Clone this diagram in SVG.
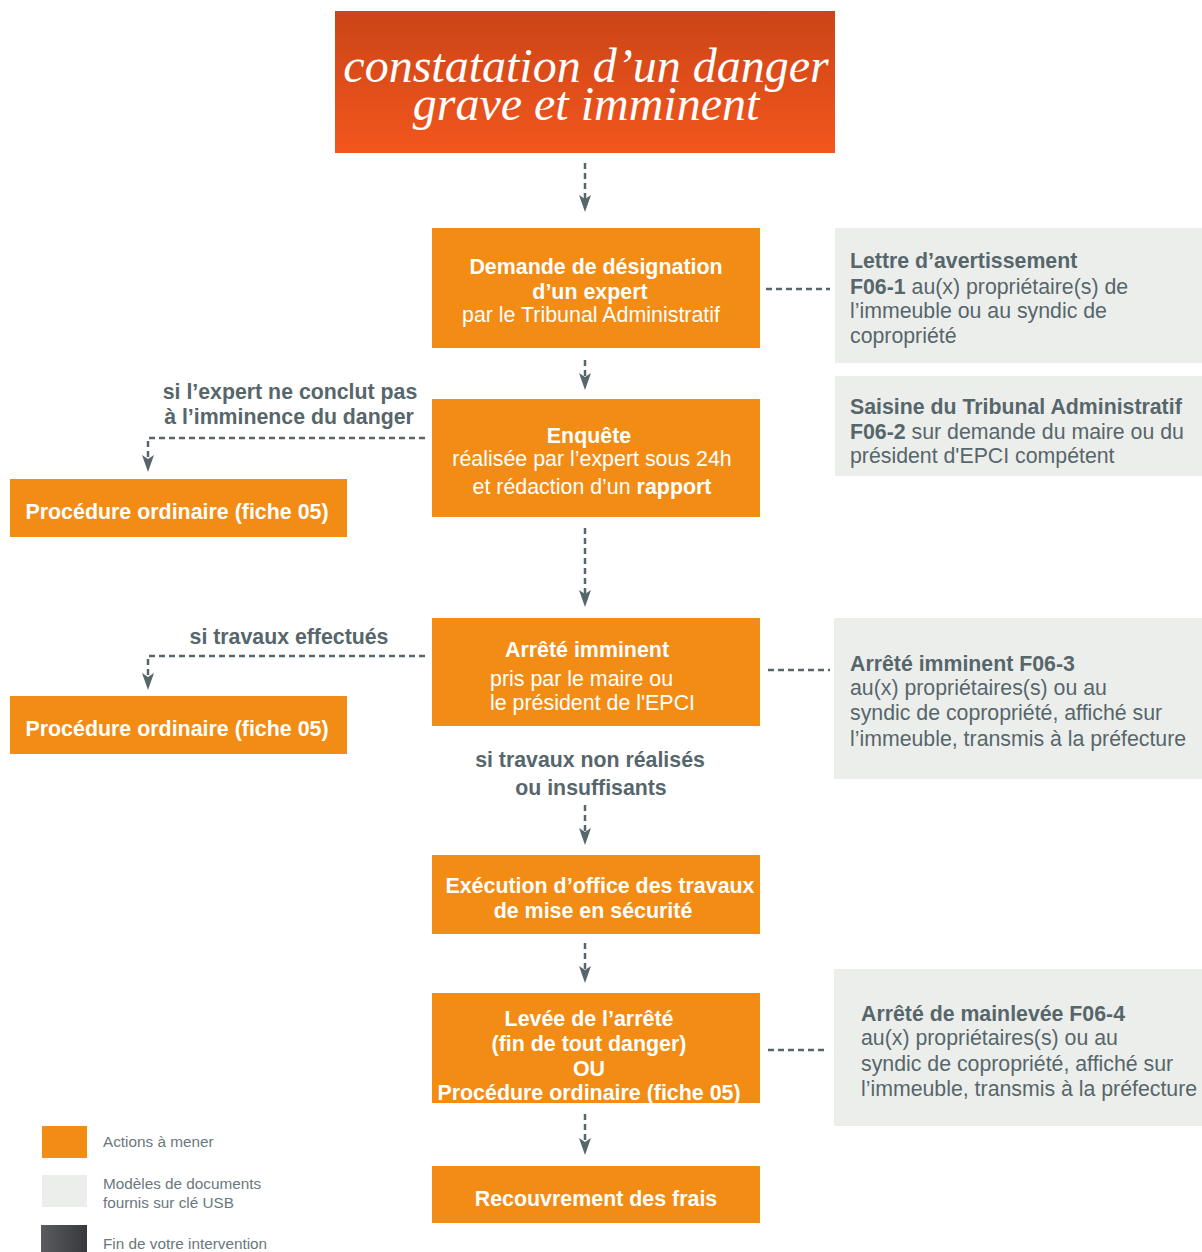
<svg xmlns="http://www.w3.org/2000/svg" width="1202" height="1252" viewBox="0 0 1202 1252">
<defs>
<linearGradient id="gTitle" x1="0" y1="0" x2="0" y2="1">
<stop offset="0" stop-color="#CB4517"/>
<stop offset="1" stop-color="#F3561D"/>
</linearGradient>
<linearGradient id="gDark" x1="0" y1="0" x2="1" y2="0">
<stop offset="0" stop-color="#5A5C5F"/>
<stop offset="1" stop-color="#36383B"/>
</linearGradient>
<marker id="ah" markerUnits="userSpaceOnUse" viewBox="0 0 17 12" refX="4" refY="6" markerWidth="17" markerHeight="12" orient="auto">
<path d="M0,0 L17,6 L0,12 L4,6 z" fill="#56666B"/>
</marker>
<style>
.act{fill:#F38C15}
.doc{fill:#ECEEEB}
.wb{font-family:"Liberation Sans",Arial,sans-serif;font-weight:bold;font-size:21.4px;fill:#FFFFFF}
.wr{font-family:"Liberation Sans",Arial,sans-serif;font-size:21.4px;fill:#FFFFFF}
.gb{font-family:"Liberation Sans",Arial,sans-serif;font-weight:bold;font-size:21.3px;fill:#56666B}
.gr{font-family:"Liberation Sans",Arial,sans-serif;font-size:21.3px;fill:#56666B}
.lg{font-family:"Liberation Sans",Arial,sans-serif;font-size:15.3px;fill:#6A787C}
.c{fill:none;stroke:#56666B;stroke-width:2.5;stroke-dasharray:6 4}
.ttl{font-family:"Liberation Serif","Times New Roman",serif;font-style:italic;font-size:48px;fill:#FFFFFF}
</style>
</defs>
<rect width="1202" height="1252" fill="#FFFFFF"/>

<g id="connectors">
<path class="c" d="M585,163 V199" marker-end="url(#ah)"/>
<path class="c" d="M585,360 V377" marker-end="url(#ah)"/>
<path class="c" d="M585,528 V594" marker-end="url(#ah)"/>
<path class="c" d="M585,805 V832" marker-end="url(#ah)"/>
<path class="c" d="M585,943 V970" marker-end="url(#ah)"/>
<path class="c" d="M585,1114 V1142" marker-end="url(#ah)"/>
<path class="c" d="M425,438 H148 V459" marker-end="url(#ah)"/>
<path class="c" d="M425,656 H148 V677" marker-end="url(#ah)"/>
<path class="c" d="M766,289 H830"/>
<circle cx="750" cy="289" r="1.3" fill="#56666B"/>
<path class="c" d="M768,670 H830"/>
<circle cx="750" cy="670" r="1.3" fill="#56666B"/>
<path class="c" d="M768,1050 H824"/>
</g>

<g id="title">
<rect x="335" y="11" width="500" height="142" fill="url(#gTitle)"/>
<text class="ttl" text-anchor="middle"><tspan x="586" y="82">constatation d’un danger</tspan><tspan x="586" y="120">grave et imminent</tspan></text>
</g>

<g id="demande">
<rect class="act" x="432" y="228" width="328" height="120"/>
<text class="wb" x="596" y="274" text-anchor="middle">Demande de désignation</text>
<text class="wb" x="590" y="299" text-anchor="middle">d’un expert</text>
<text class="wr" x="591" y="322" text-anchor="middle">par le Tribunal Administratif</text>
</g>

<g id="doc1">
<rect class="doc" x="835" y="228" width="367" height="135"/>
<text class="gb" x="850" y="268">Lettre d’avertissement</text>
<text class="gr" x="850" y="294"><tspan font-weight="bold">F06-1</tspan> au(x) propriétaire(s) de</text>
<text class="gr" x="850" y="318">l’immeuble ou au syndic de</text>
<text class="gr" x="850" y="343">copropriété</text>
</g>

<g id="doc2">
<rect class="doc" x="835" y="376" width="367" height="100"/>
<text class="gb" x="850" y="414">Saisine du Tribunal Administratif</text>
<text class="gr" x="850" y="439"><tspan font-weight="bold">F06-2</tspan> sur demande du maire ou du</text>
<text class="gr" x="850" y="463">président d'EPCI compétent</text>
</g>

<g id="enquete">
<rect class="act" x="432" y="399" width="328" height="118"/>
<text class="wb" x="589" y="443" text-anchor="middle">Enquête</text>
<text class="wr" x="592" y="466" text-anchor="middle">réalisée par l’expert  sous 24h</text>
<text class="wr" x="592" y="494" text-anchor="middle">et rédaction d’un <tspan font-weight="bold">rapport</tspan></text>
</g>

<g id="label1">
<text class="gb" x="290" y="399" text-anchor="middle">si l’expert ne conclut pas</text>
<text class="gb" x="289" y="424" text-anchor="middle">à l’imminence du danger</text>
</g>

<g id="proc1">
<rect class="act" x="10" y="479" width="337" height="58"/>
<text class="wb" x="177" y="519" text-anchor="middle">Procédure ordinaire (fiche 05)</text>
</g>

<g id="arrete">
<rect class="act" x="432" y="618" width="328" height="108"/>
<text class="wb" x="587" y="657" text-anchor="middle">Arrêté imminent</text>
<text class="wr" x="490" y="686">pris par le maire ou</text>
<text class="wr" x="490" y="710">le président de l'EPCI</text>
</g>

<g id="label2">
<text class="gb" x="289" y="644" text-anchor="middle">si travaux effectués</text>
</g>

<g id="proc2">
<rect class="act" x="10" y="696" width="337" height="58"/>
<text class="wb" x="177" y="736" text-anchor="middle">Procédure ordinaire (fiche 05)</text>
</g>

<g id="doc3">
<rect class="doc" x="834" y="618" width="368" height="161"/>
<text class="gb" x="850" y="671">Arrêté imminent F06-3</text>
<text class="gr" x="850" y="695">au(x) propriétaires(s) ou au</text>
<text class="gr" x="850" y="720">syndic de copropriété, affiché sur</text>
<text class="gr" x="850" y="746">l’immeuble, transmis à la préfecture</text>
</g>

<g id="label3">
<text class="gb" x="590" y="767" text-anchor="middle">si travaux non réalisés</text>
<text class="gb" x="591" y="795" text-anchor="middle">ou insuffisants</text>
</g>

<g id="execution">
<rect class="act" x="432" y="855" width="328" height="79"/>
<text class="wb" x="600" y="893" text-anchor="middle">Exécution d’office des travaux</text>
<text class="wb" x="593" y="918" text-anchor="middle">de mise en sécurité</text>
</g>

<g id="levee">
<rect class="act" x="432" y="993" width="328" height="110"/>
<text class="wb" x="589" y="1026" text-anchor="middle">Levée de l’arrêté</text>
<text class="wb" x="589" y="1051" text-anchor="middle">(fin de tout danger)</text>
<text class="wb" x="589" y="1076" text-anchor="middle">OU</text>
<text class="wb" x="589" y="1100" text-anchor="middle">Procédure ordinaire (fiche 05)</text>
</g>

<g id="doc4">
<rect class="doc" x="834" y="969" width="368" height="157"/>
<text class="gb" x="861" y="1021">Arrêté de mainlevée F06-4</text>
<text class="gr" x="861" y="1045">au(x) propriétaires(s) ou au</text>
<text class="gr" x="861" y="1071">syndic de copropriété, affiché sur</text>
<text class="gr" x="861" y="1096">l’immeuble, transmis à la préfecture</text>
</g>

<g id="recouvrement">
<rect class="act" x="432" y="1166" width="328" height="57"/>
<text class="wb" x="596" y="1206" text-anchor="middle">Recouvrement des frais</text>
</g>

<g id="legend">
<rect class="act" x="42" y="1126" width="45" height="32"/>
<text class="lg" x="103" y="1147">Actions à mener</text>
<rect class="doc" x="42" y="1175" width="45" height="32"/>
<text class="lg" x="103" y="1189">Modèles de documents</text>
<text class="lg" x="103" y="1208">fournis sur clé USB</text>
<rect x="41" y="1225" width="46" height="27" fill="url(#gDark)"/>
<text class="lg" x="103" y="1249">Fin de votre intervention</text>
</g>
</svg>
